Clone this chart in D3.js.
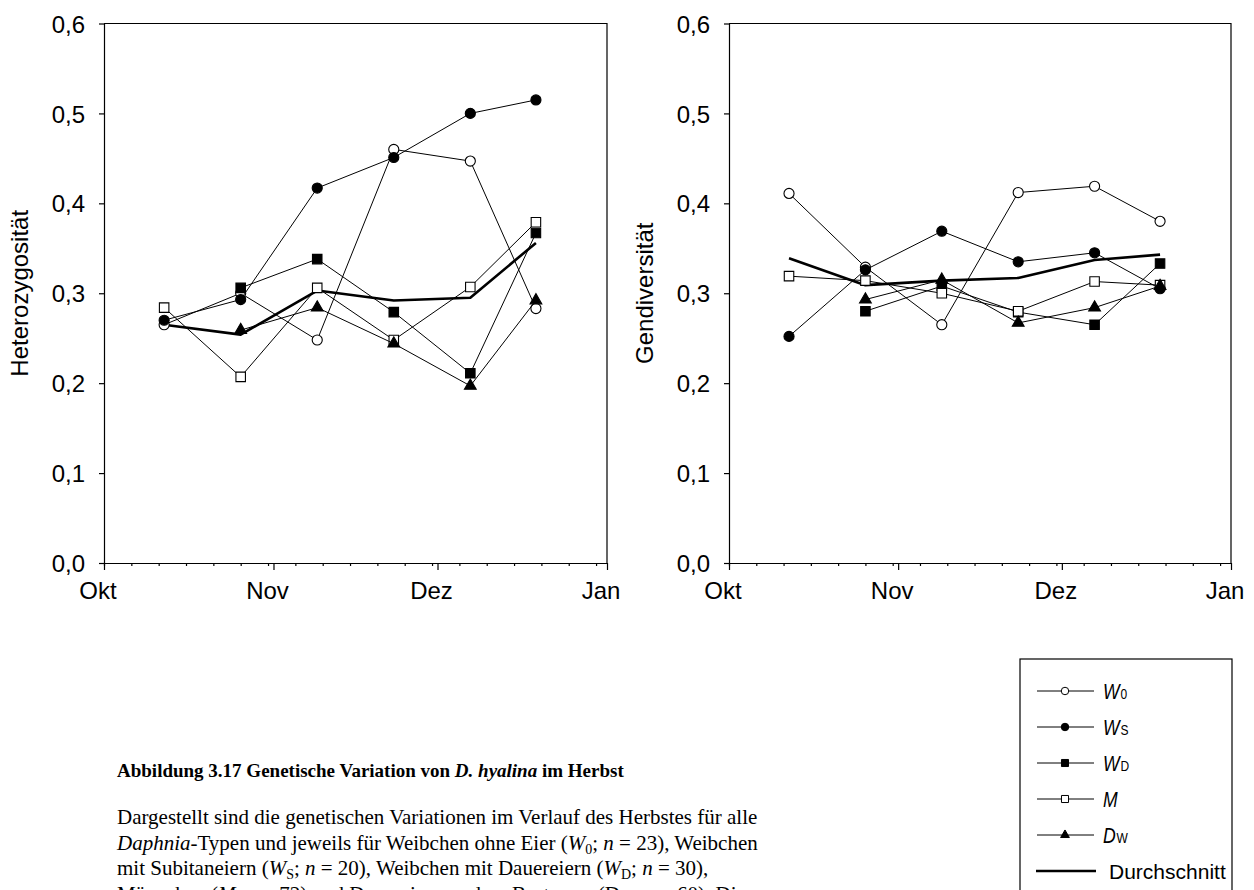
<!DOCTYPE html>
<html>
<head>
<meta charset="utf-8">
<script src="https://cdn.jsdelivr.net/npm/d3@7/dist/d3.min.js"></script>
<style>
  body { margin: 0; background: #fff; }
  svg { display: block; }
</style>
</head>
<body>
<svg id="chart" width="1254" height="890"></svg>
<script>
// sampling dates (autumn)
const sampleDates = ['2003-10-12', '2003-10-26', '2003-11-09', '2003-11-23', '2003-12-07', '2003-12-19'];
const monthLabels = ['Okt', 'Nov', 'Dez', 'Jan'];
const yTicks = [0, 0.1, 0.2, 0.3, 0.4, 0.5, 0.6];

// Heterozygositaet
const heteroW0 = [0.265, 0.300, 0.248, 0.460, 0.447, 0.283];
const heteroWS = [0.270, 0.293, 0.417, 0.451, 0.500, 0.515];
const heteroWD = [null, 0.306, 0.338, 0.279, 0.211, 0.367];
const heteroM = [0.284, 0.207, 0.306, 0.248, 0.307, 0.379];
const heteroDW = [null, 0.259, 0.284, 0.244, 0.197, 0.292];
const heteroMean = [0.265, 0.254, 0.303, 0.292, 0.295, 0.356];

// Gendiversitaet
const genW0 = [0.411, 0.329, 0.265, 0.412, 0.419, 0.380];
const genWS = [0.252, 0.326, 0.369, 0.335, 0.345, 0.305];
const genWD = [null, 0.280, 0.308, 0.279, 0.265, 0.333];
const genM = [0.319, 0.314, 0.300, 0.280, 0.313, 0.309];
const genDW = [null, 0.293, 0.315, 0.267, 0.284, 0.308];
const genMean = [0.339, 0.309, 0.314, 0.317, 0.337, 0.343];

const parseDate = d3.timeParse('%Y-%m-%d');
const dates = sampleDates.map(parseDate);

const sans = '"Liberation Sans", Arial, Helvetica, sans-serif';
const serif = '"Liberation Serif", "Times New Roman", serif';

// symbol per series
const seriesStyle = [
  { main: 'W', sub: '0', type: d3.symbolCircle, size: 80, filled: false },
  { main: 'W', sub: 'S', type: d3.symbolCircle, size: 80, filled: true },
  { main: 'W', sub: 'D', type: d3.symbolSquare, size: 90, filled: true },
  { main: 'M', sub: '', type: d3.symbolSquare, size: 90, filled: false },
  { main: 'D', sub: 'W', type: d3.symbolTriangle, size: 60, filled: true }
];

const panels = [
  { left: 104, right: 607, title: 'Heterozygosität', series: [heteroW0, heteroWS, heteroWD, heteroM, heteroDW], mean: heteroMean },
  { left: 729, right: 1231, title: 'Gendiversität', series: [genW0, genWS, genWD, genM, genDW], mean: genMean }
];

const plotTop = 23.5, plotBottom = 563;
const svg = d3.select('#chart');
svg.append('rect').attr('width', 1254).attr('height', 890).attr('fill', '#fff');

const xStart = new Date(2003, 9, 1), xEnd = new Date(2004, 0, 1);
const monthTicks = d3.timeMonth.range(xStart, d3.timeDay.offset(xEnd, 1));
const minorTicks = d3.timeDay.range(xStart, xEnd, 5);

panels.forEach(p => {
  const x = d3.scaleTime().domain([xStart, xEnd]).range([p.left, p.right]);
  const y = d3.scaleLinear().domain([0, 0.6]).range([plotBottom, plotTop]);
  const g = svg.append('g');

  // frame top + right
  g.append('path')
    .attr('d', `M${p.left},${plotTop}H${p.right}V${plotBottom}`)
    .attr('fill', 'none').attr('stroke', '#000').attr('stroke-width', 1.2);

  // y axis
  const yAxis = g.append('g')
    .attr('transform', `translate(${p.left},0)`)
    .call(d3.axisLeft(y).tickValues(yTicks).tickSize(5).tickSizeOuter(0).tickPadding(14)
      .tickFormat(d => d3.format('.1f')(d).replace('.', ',')));
  yAxis.selectAll('text').attr('font-size', 24).attr('font-family', sans).attr('fill', '#000').attr('dy', '0.36em');

  // x axis: minor ticks every 5 days, major ticks at month starts
  g.append('g')
    .attr('transform', `translate(0,${plotBottom})`)
    .call(d3.axisBottom(x).tickValues(minorTicks).tickSize(3).tickSizeOuter(0).tickFormat(''));
  const xMajor = g.append('g')
    .attr('transform', `translate(0,${plotBottom})`)
    .call(d3.axisBottom(x).tickValues(monthTicks).tickSize(7).tickSizeOuter(0).tickPadding(12)
      .tickFormat((d, i) => monthLabels[i]));
  xMajor.selectAll('text').attr('font-size', 24).attr('font-family', sans).attr('fill', '#000').attr('dx', -6.5);
  svg.selectAll('.domain, .tick line').attr('stroke', '#000').attr('stroke-width', 1.2);

  // axis title
  g.append('text')
    .attr('transform', `translate(${p.left - 76},${(plotTop + plotBottom) / 2}) rotate(-90)`)
    .attr('text-anchor', 'middle')
    .attr('font-size', 24).attr('font-family', sans)
    .text(p.title);

  const line = d3.line()
    .defined(d => d[1] != null)
    .x(d => x(d[0]))
    .y(d => y(d[1]));

  // mean line
  g.append('path')
    .datum(dates.map((d, i) => [d, p.mean[i]]))
    .attr('d', line)
    .attr('fill', 'none').attr('stroke', '#000').attr('stroke-width', 2.6).attr('stroke-linejoin', 'round');

  p.series.forEach((vals, si) => {
    const st = seriesStyle[si];
    const pts = dates.map((d, i) => [d, vals[i]]).filter(d => d[1] != null);
    g.append('path')
      .datum(pts)
      .attr('d', line)
      .attr('fill', 'none').attr('stroke', '#000').attr('stroke-width', 1);
    g.append('g').selectAll('path')
      .data(pts)
      .join('path')
      .attr('transform', d => `translate(${x(d[0])},${y(d[1])})`)
      .attr('d', d3.symbol().type(st.type).size(st.size))
      .attr('fill', st.filled ? '#000' : '#fff')
      .attr('stroke', '#000').attr('stroke-width', 1.1);
  });
});

// legend
const legend = svg.append('g');
legend.append('rect')
  .attr('x', 1020).attr('y', 659).attr('width', 212).attr('height', 260)
  .attr('fill', '#fff').attr('stroke', '#000').attr('stroke-width', 1.2);
const legendY = d3.scalePoint().domain(d3.range(6)).range([691, 871]);
seriesStyle.forEach((st, i) => {
  const yy = legendY(i);
  legend.append('line').attr('x1', 1037).attr('x2', 1094).attr('y1', yy).attr('y2', yy)
    .attr('stroke', '#000').attr('stroke-width', 1);
  legend.append('path')
    .attr('transform', `translate(1065,${yy})`)
    .attr('d', d3.symbol().type(st.type).size(st.size * 0.55))
    .attr('fill', st.filled ? '#000' : '#fff').attr('stroke', '#000');
  const t = legend.append('text')
    .attr('transform', `translate(1103,${yy + 8}) scale(0.8,1)`)
    .attr('font-family', sans).attr('font-size', 22);
  t.append('tspan').attr('font-style', 'italic').text(st.main);
  if (st.sub) t.append('tspan').attr('font-size', 15).attr('dx', 1).text(st.sub);
});
const yMean = legendY(5);
legend.append('line').attr('x1', 1036).attr('x2', 1096).attr('y1', yMean).attr('y2', yMean)
  .attr('stroke', '#000').attr('stroke-width', 2.6);
legend.append('text').attr('x', 1109).attr('y', yMean + 8)
  .attr('font-family', sans).attr('font-size', 21).text('Durchschnitt');

// caption
const caption = svg.append('g').attr('font-family', serif).attr('font-size', 21).attr('fill', '#000');
const capTitle = caption.append('text').attr('x', 117).attr('y', 777)
  .attr('font-weight', 'bold').attr('font-size', 19);
capTitle.append('tspan').text('Abbildung 3.17 Genetische Variation von ');
capTitle.append('tspan').attr('font-style', 'italic').text('D. hyalina');
capTitle.append('tspan').text(' im Herbst');

// each line: list of [text, style] parts; i = italic, s = subscript
const captionLines = [
  [['Dargestellt sind die genetischen Variationen im Verlauf des Herbstes für alle', '']],
  [['Daphnia', 'i'], ['-Typen und jeweils für Weibchen ohne Eier (', ''], ['W', 'i'], ['0', 's'], ['; ', ''], ['n', 'i'], [' = 23), Weibchen', '']],
  [['mit Subitaneiern (', ''], ['W', 'i'], ['S', 's'], ['; ', ''], ['n', 'i'], [' = 20), Weibchen mit Dauereiern (', ''], ['W', 'i'], ['D', 's'], ['; ', ''], ['n', 'i'], [' = 30),', '']],
  [['Männchen (', ''], ['M', 'i'], ['; ', ''], ['n', 'i'], [' = 72) und Dauereier aus dem Brutraum (D', ''], ['W', 's'], ['; ', ''], ['n', 'i'], [' = 60). Die', '']]
];
const captionY = [824, 849.5, 875, 900.5];
captionLines.forEach((parts, li) => {
  const t = caption.append('text').attr('x', 117).attr('y', captionY[li]).attr('xml:space', 'preserve');
  parts.forEach(([txt, st]) => {
    const ts = t.append('tspan').text(txt);
    if (st === 'i') ts.attr('font-style', 'italic');
    if (st === 's') ts.attr('font-size', 14).attr('baseline-shift', '-4');
  });
});
</script>
</body>
</html>
